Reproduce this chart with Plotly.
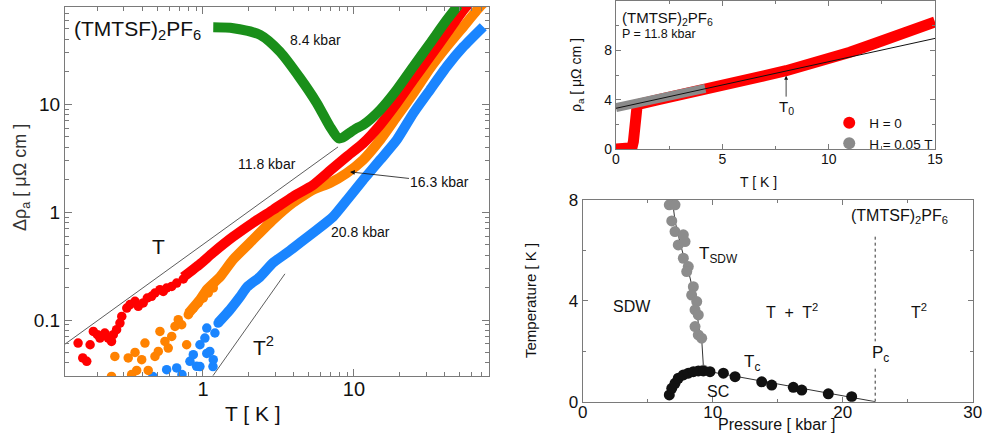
import plotly.graph_objects as go
import numpy as np

# ---------------- Panel A: log-log  delta rho_a vs T ----------------
green_T   = [1.17, 1.59, 2.39, 3.23, 4.39, 5.66, 6.93, 7.87, 8.4, 9.3, 10.4, 11.5, 14.9, 19.2, 24.7, 31.9, 41.1, 49.1]
green_rho = [51.6, 50.6, 43.9, 30.7, 17.5, 10.3, 6.2, 4.84, 4.9, 5.4, 5.99, 6.43, 8.85, 13.6, 22.3, 36.7, 60.3, 83.0]

red_band_T   = [0.74, 0.955, 1.165, 1.58, 2.14, 2.91, 3.94, 5.35, 7.0, 8.95, 11.5, 14.9, 19.2, 24.7, 31.9, 41.1, 53.0, 62.0]
red_band_rho = [0.25, 0.33, 0.42, 0.59, 0.796, 1.05, 1.39, 1.78, 2.45, 3.27, 4.35, 6.43, 10.2, 16.8, 27.6, 45.4, 74.7, 95.0]
red_pts_T   = [0.149, 0.160, 0.170, 0.179, 0.188, 0.200, 0.208, 0.224, 0.236, 0.248, 0.255, 0.268, 0.282, 0.290,
               0.313, 0.329, 0.355, 0.373, 0.402, 0.428, 0.457, 0.481, 0.519, 0.546, 0.575, 0.621, 0.670, 0.741]
red_pts_rho = [0.0612, 0.0445, 0.0414, 0.0590, 0.0784, 0.0731, 0.0681, 0.0758, 0.0681, 0.0634, 0.0731, 0.0813, 0.0938, 0.108,
               0.129, 0.139, 0.149, 0.134, 0.144, 0.160, 0.166, 0.178, 0.191, 0.184, 0.198, 0.205, 0.220, 0.240]

orange_band_T   = [0.80, 0.955, 1.06, 1.30, 1.58, 2.14, 2.91, 3.94, 5.35, 6.93, 8.95, 11.5, 14.9, 19.2, 24.7, 31.9, 41.1, 53.0, 68.3, 80.0]
orange_band_rho = [0.115, 0.154, 0.191, 0.252, 0.362, 0.554, 0.849, 1.22, 1.61, 1.86, 2.30, 3.05, 4.67, 7.68, 12.6, 21.5, 34.1, 52.3, 80.1, 100.0]
orange_pts_T   = [0.248, 0.261, 0.320, 0.337, 0.355, 0.364, 0.393, 0.413, 0.434, 0.481, 0.506, 0.519, 0.560, 0.589,
                  0.621, 0.653, 0.686, 0.723, 0.780, 0.800, 0.863, 0.931, 1.005, 1.084, 1.17]
orange_pts_rho = [0.0300, 0.046, 0.0445, 0.0312, 0.0501, 0.0341, 0.0429, 0.0612, 0.0341, 0.046, 0.0512, 0.0784, 0.0634, 0.055,
                  0.0705, 0.0873, 0.1007, 0.0904, 0.059, 0.112, 0.129, 0.144, 0.160, 0.178, 0.198]

blue_band_T   = [1.26, 1.51, 1.76, 1.96, 2.39, 2.91, 3.60, 4.39, 5.69, 7.26, 9.0, 11.5, 14.9, 19.2, 24.7, 31.9, 41.1, 53.0, 71.8]
blue_band_rho = [0.094, 0.1245, 0.164, 0.203, 0.252, 0.339, 0.42, 0.52, 0.686, 0.904, 1.3, 1.99, 3.05, 4.67, 8.25, 13.6, 22.3, 34.1, 52.3]
blue_pts_T   = [0.466, 0.575, 0.670, 0.726, 0.820, 0.863, 0.908, 0.955, 0.955, 1.03, 1.06, 1.06, 1.11, 1.165, 1.17, 1.20, 1.26]
blue_pts_rho = [0.0299, 0.0347, 0.0360, 0.0312, 0.0414, 0.0477, 0.0372, 0.059, 0.037, 0.0681, 0.0843, 0.049, 0.0512, 0.037, 0.0429, 0.0758, 0.0938]

lineT_T   = [0.122, 7.84]
lineT_rho = [0.0598, 4.02]
lineT2_T   = [1.165, 3.49]
lineT2_rho = [0.0305, 0.268]

# ---------------- Panel B: rho_a vs T at 11.8 kbar ----------------
b_red_T   = [0, 0.3, 0.6, 0.75, 0.82, 0.86, 0.9, 0.95, 1.0, 2, 3, 4, 5, 6, 7, 8, 9, 10, 11, 12, 13, 14, 15]
b_red_rho = [0.0, 0.01, 0.03, 0.1, 0.6, 1.5, 2.5, 3.2, 3.6, 4.0, 4.35, 4.75, 5.15, 5.55, 5.95, 6.35, 6.8, 7.3, 7.85, 8.45, 9.05, 9.65, 10.3]
b_gray_T   = [0, 1, 2, 3, 4.2]
b_gray_rho = [3.35, 3.73, 4.1, 4.48, 4.92]
b_fit_T   = [0, 15]
b_fit_rho = [3.30, 8.97]

# ---------------- Panel C: phase diagram ----------------
sdw_P = [6.66, 7.10, 6.85, 7.10, 7.74, 7.35, 7.87, 7.74, 8.12, 8.0, 8.51, 8.38, 8.77, 8.64, 8.89, 8.64, 8.89, 9.15, 9.28]
sdw_T = [7.81, 7.81, 7.17, 6.75, 6.62, 6.22, 6.35, 5.69, 5.36, 5.16, 4.56, 4.23, 3.97, 3.64, 3.44, 2.98, 2.65, 2.52, 1.26]
sdw_line_P = [6.9, 7.1, 7.4, 7.8, 8.1, 8.5, 8.8, 8.9, 9.15, 9.3]
sdw_line_T = [8.0, 7.17, 6.5, 5.69, 5.26, 4.4, 3.7, 3.0, 2.5, 1.26]
sc_P = [6.66, 6.85, 7.10, 7.35, 7.74, 8.12, 8.51, 8.89, 9.28, 9.79, 10.82, 11.72, 13.77, 14.54, 16.2, 16.85, 18.89, 20.69]
sc_T = [0.27, 0.53, 0.73, 0.93, 1.06, 1.13, 1.19, 1.22, 1.22, 1.19, 1.13, 0.99, 0.79, 0.66, 0.57, 0.46, 0.31, 0.20]
sc_line_P = [6.66, 7.35, 8.12, 9.05, 22.5]
sc_line_T = [0.27, 0.93, 1.13, 1.26, 0.0]
pc_P = [22.5, 22.5]
pc_T = [0.0, 6.64]

FONT = "Liberation Sans, Arial, sans-serif"
GREEN = "#1a8f1a"
RED = "#ff0000"
ORANGE = "#ff8200"
BLUE = "#1a85ff"
AXC = "#7a7a7a"

fig = go.Figure()

# Panel A traces
fig.add_trace(go.Scatter(x=lineT_T, y=lineT_rho, mode="lines", line=dict(color="#333", width=0.8), xaxis="x", yaxis="y"))
fig.add_trace(go.Scatter(x=lineT2_T, y=lineT2_rho, mode="lines", line=dict(color="#333", width=0.8), xaxis="x", yaxis="y"))
for bT, br, pT, pr, c in [(blue_band_T, blue_band_rho, blue_pts_T, blue_pts_rho, BLUE),
                          (orange_band_T, orange_band_rho, orange_pts_T, orange_pts_rho, ORANGE),
                          (red_band_T, red_band_rho, red_pts_T, red_pts_rho, RED)]:
    fig.add_trace(go.Scatter(x=pT, y=pr, mode="markers", marker=dict(color=c, size=9.5), xaxis="x", yaxis="y"))
    fig.add_trace(go.Scatter(x=bT, y=br, mode="lines", line=dict(color=c, width=10, shape="spline", smoothing=0.5),
                             xaxis="x", yaxis="y"))
fig.add_trace(go.Scatter(x=green_T, y=green_rho, mode="lines", line=dict(color=GREEN, width=10, shape="spline", smoothing=0.7),
                         xaxis="x", yaxis="y"))

# Panel B traces
fig.add_trace(go.Scatter(x=b_red_T, y=b_red_rho, mode="lines", line=dict(color=RED, width=11),
                         xaxis="x2", yaxis="y2"))
fig.add_trace(go.Scatter(x=b_gray_T, y=b_gray_rho, mode="lines", line=dict(color="#8a8a8a", width=9),
                         xaxis="x2", yaxis="y2"))
fig.add_trace(go.Scatter(x=b_fit_T, y=b_fit_rho, mode="lines", line=dict(color="#111", width=1),
                         xaxis="x2", yaxis="y2"))
fig.add_trace(go.Scatter(x=[None], y=[None], mode="markers", marker=dict(color=RED, size=13), name="H = 0",
                         showlegend=True, xaxis="x2", yaxis="y2"))
fig.add_trace(go.Scatter(x=[None], y=[None], mode="markers", marker=dict(color="#8a8a8a", size=13), name="H = 0.05 T",
                         showlegend=True, xaxis="x2", yaxis="y2"))

# Panel C traces
fig.add_trace(go.Scatter(x=pc_P, y=pc_T, mode="lines", line=dict(color="#333", width=1, dash="dot"), xaxis="x3", yaxis="y3"))
fig.add_trace(go.Scatter(x=sdw_line_P, y=sdw_line_T, mode="lines", line=dict(color="#333", width=1), xaxis="x3", yaxis="y3"))
fig.add_trace(go.Scatter(x=sc_line_P, y=sc_line_T, mode="lines", line=dict(color="#333", width=1), xaxis="x3", yaxis="y3"))
fig.add_trace(go.Scatter(x=sdw_P, y=sdw_T, mode="markers", marker=dict(color="#8c8c8c", size=11), xaxis="x3", yaxis="y3"))
fig.add_trace(go.Scatter(x=sc_P, y=sc_T, mode="markers", marker=dict(color="#111", size=11), xaxis="x3", yaxis="y3"))

for tr in fig.data:
    if tr.showlegend is None:
        tr.showlegend = False

axis_common = dict(showline=True, linecolor=AXC, linewidth=1, mirror="ticks", ticks="inside", automargin=False,
                   tickcolor=AXC, showgrid=False, zeroline=False, tickfont=dict(family=FONT, color="#111"))

fig.update_layout(
    width=986, height=444, margin=dict(l=0, r=0, t=0, b=0, autoexpand=False),
    plot_bgcolor="white", paper_bgcolor="white",
    font=dict(family=FONT, color="#111"),
    xaxis=dict(axis_common, type="log", domain=[0.0659, 0.4959], range=[np.log10(0.122), np.log10(78.3)],
               tickvals=[1, 10], ticktext=["1", "10"], ticklen=7, tickfont=dict(size=20, family=FONT, color="#111"),
               ticklabelstandoff=-5,
               minor=dict(ticks="inside", ticklen=4, tickcolor=AXC, tickvals=[0.2,0.3,0.4,0.5,0.6,0.7,0.8,0.9,2,3,4,5,6,7,8,9,20,30,40,50,60,70]),
               anchor="y"),
    yaxis=dict(axis_common, type="log", domain=[0.1532, 0.9842], range=[np.log10(0.0303), np.log10(79.6)],
               tickvals=[0.1, 1, 10], ticktext=["0.1", "1", "10"], ticklen=7, tickfont=dict(size=19, family=FONT, color="#111"),
               minor=dict(ticks="inside", ticklen=4, tickcolor=AXC, tickvals=[0.04,0.05,0.06,0.07,0.08,0.09,0.2,0.3,0.4,0.5,0.6,0.7,0.8,0.9,2,3,4,5,6,7,8,9,20,30,40,50,60,70]),
               anchor="x"),
    xaxis2=dict(axis_common, domain=[0.6247, 0.9483], range=[0, 15], dtick=5, ticklen=5,
                tickfont=dict(size=14, family=FONT, color="#111"), ticklabelstandoff=-3,
                minor=dict(ticks="inside", ticklen=3, tickcolor=AXC, dtick=2.5), anchor="y2"),
    yaxis2=dict(axis_common, domain=[0.6644, 0.9977], range=[0, 12], dtick=4, ticklen=5,
                tickfont=dict(size=14, family=FONT, color="#111"),
                minor=dict(ticks="inside", ticklen=3, tickcolor=AXC, dtick=2), anchor="x2"),
    xaxis3=dict(axis_common, domain=[0.591, 0.9865], range=[0, 30], dtick=10, ticklen=5,
                tickfont=dict(size=17, family=FONT, color="#111"), ticklabelstandoff=-5,
                minor=dict(ticks="inside", ticklen=3, tickcolor=AXC, dtick=5), anchor="y3"),
    yaxis3=dict(axis_common, domain=[0.0953, 0.5495], range=[0, 8], dtick=4, ticklen=5,
                tickfont=dict(size=17, family=FONT, color="#111"),
                minor=dict(ticks="inside", ticklen=3, tickcolor=AXC, dtick=2), anchor="x3"),
    legend=dict(x=0.841, y=0.758, xanchor="left", yanchor="top", bgcolor="rgba(0,0,0,0)",
                font=dict(size=13.5, family=FONT, color="#111"), tracegroupgap=0, itemsizing="constant"),
    showlegend=True,
)

ann = []
def A(text, x, y, xr, yr, size, xanchor="center", **kw):
    d = dict(text=text, x=x, y=y, xref=xr, yref=yr, showarrow=False, xanchor=xanchor, yanchor="middle",
             font=dict(size=size, family=FONT, color=kw.pop("color", "#111")))
    d.update(kw)
    ann.append(d)

# Axis titles (paper coords)
A("T [ K ]", 0.2566, 0.0698, "paper", "paper", 21)
A("Δρ<sub>a</sub> [ μΩ cm ]", 0.0223, 0.6014, "paper", "paper", 18, textangle=-90, color="#333")
A("T [ K ]", 0.7688, 0.590, "paper", "paper", 14)
A("ρ<sub>a</sub> [ μΩ cm ]", 0.5852, 0.831, "paper", "paper", 14, textangle=-90)
A("Pressure [ kbar ]", 0.7877, 0.0428, "paper", "paper", 16)
A("Temperature [ K ]", 0.5375, 0.3243, "paper", "paper", 15, textangle=-90)

# Panel A annotations (log coords)
A("(TMTSF)<sub>2</sub>PF<sub>6</sub>", np.log10(0.135), np.log10(48.7), "x", "y", 21, xanchor="left")
A("8.4 kbar", np.log10(5.6), np.log10(39.4), "x", "y", 14)
A("11.8 kbar", np.log10(2.65), np.log10(2.8), "x", "y", 14)
A("20.8 kbar", np.log10(11.0), np.log10(0.66), "x", "y", 14)
A("T", np.log10(0.51), np.log10(0.48), "x", "y", 21)
A("T<sup>2</sup>", np.log10(2.5), np.log10(0.058), "x", "y", 21)
ann.append(dict(text="16.3 kbar", x=np.log10(9.41), y=np.log10(2.36), xref="x", yref="y", showarrow=True,
                ax=90, ay=10, arrowhead=2, arrowsize=1.2, arrowwidth=0.8, arrowcolor="#111", standoff=0,
                font=dict(size=14, family=FONT, color="#111")))

# Panel B annotations
A("(TMTSF)<sub>2</sub>PF<sub>6</sub>", 0.19, 10.6, "x2", "y2", 15, xanchor="left")
A("P = 11.8 kbar", 0.19, 9.3, "x2", "y2", 12.5, xanchor="left")
ann.append(dict(text="T<sub>0</sub>", x=8.0, y=5.95, xref="x2", yref="y2", showarrow=True, ax=0, ay=32,
                arrowhead=2, arrowsize=1, arrowwidth=0.8, arrowcolor="#111", standoff=0,
                font=dict(size=15, family=FONT, color="#111")))

# Panel C annotations
A("SDW", 3.77, 3.77, "x3", "y3", 16)
A("T<sub>SDW</sub>", 8.8, 5.8, "x3", "y3", 17, xanchor="left")
A("T  +  T<sup>2</sup>", 16.1, 3.6, "x3", "y3", 16)
A("T<sup>2</sup>", 25.9, 3.6, "x3", "y3", 16)
A("T<sub>c</sub>", 13.0, 1.55, "x3", "y3", 17)
A("SC", 10.4, 0.42, "x3", "y3", 16)
A("P<sub>c</sub>", 22.9, 1.9, "x3", "y3", 17, bgcolor="white")
A("(TMTSF)<sub>2</sub>PF<sub>6</sub>", 24.4, 7.35, "x3", "y3", 16)

fig.update_layout(annotations=ann)
fig.write_html("out.html", config={"displayModeBar": False},
               post_script="document.body.style.margin='0px';document.body.style.padding='0px';")
